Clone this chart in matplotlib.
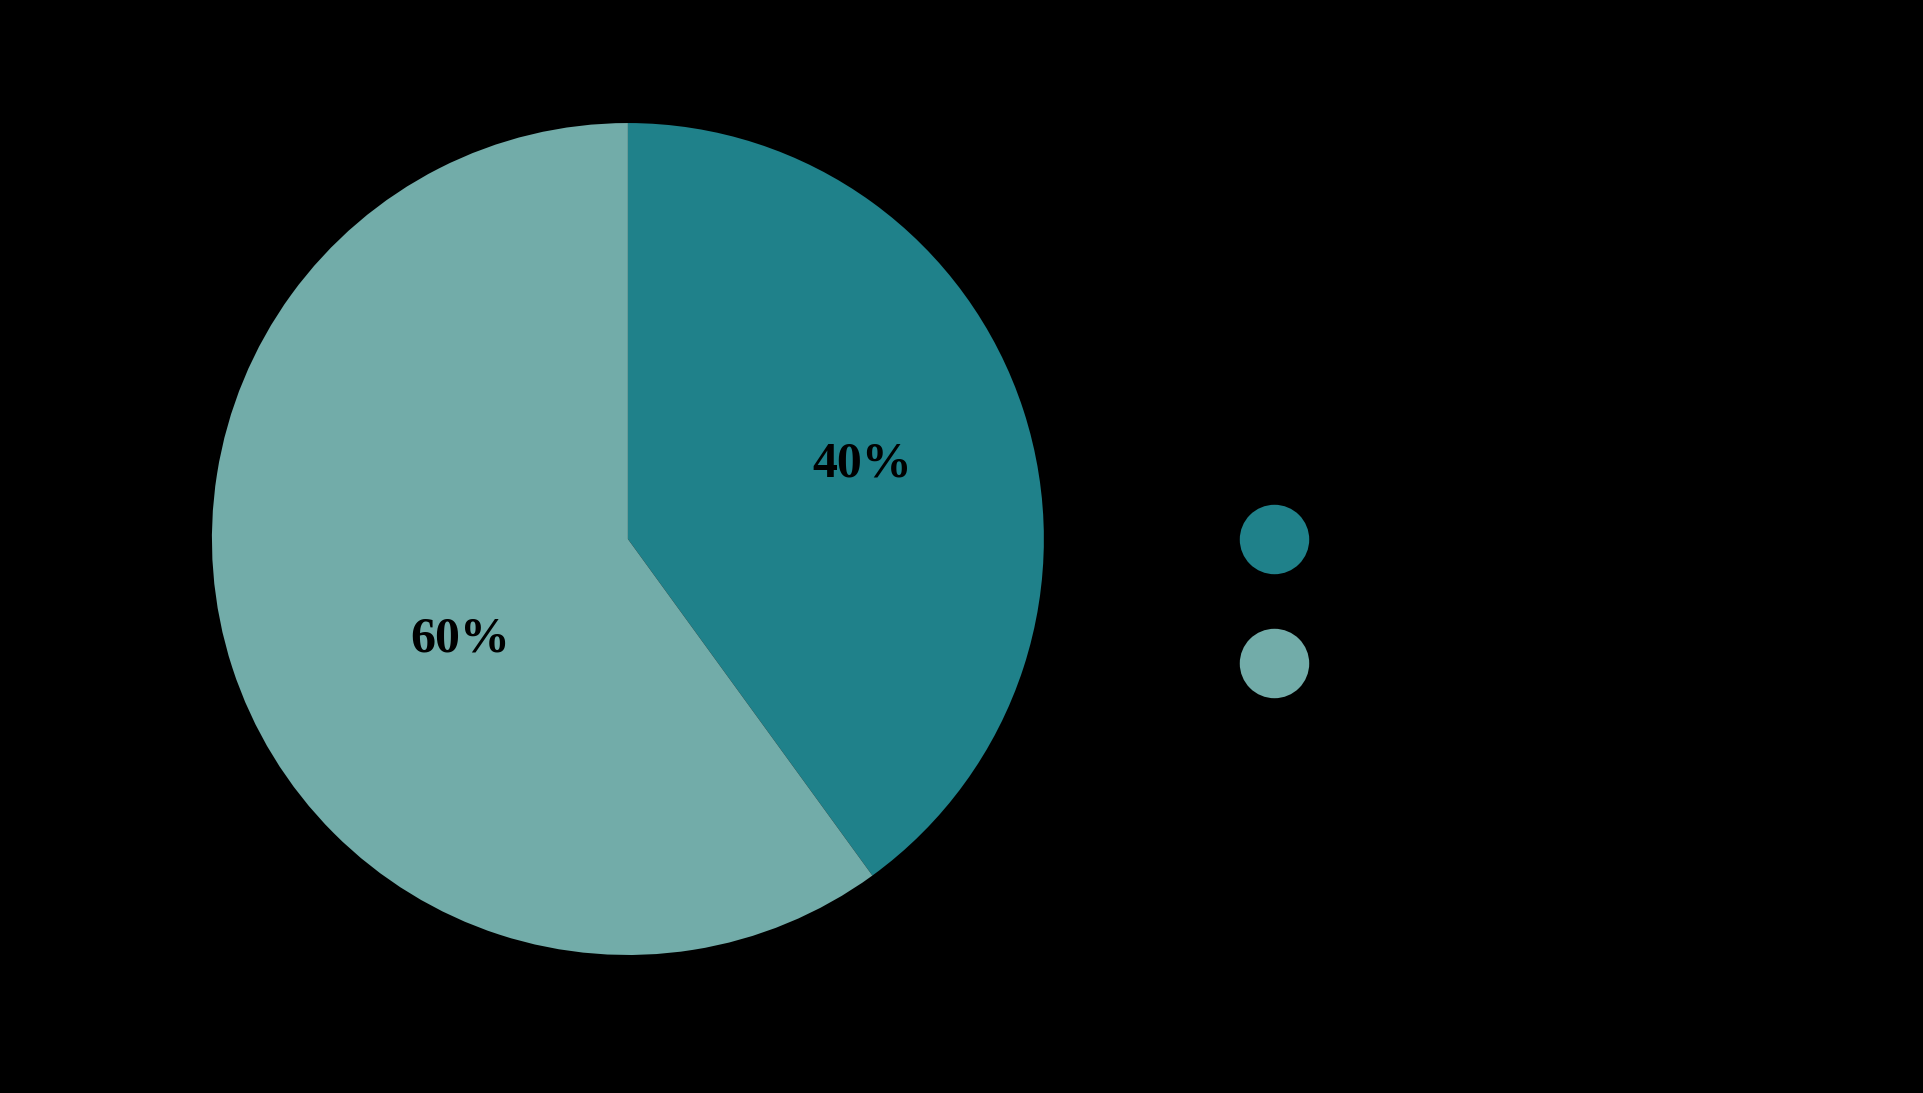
import matplotlib
matplotlib.use("Agg")
from matplotlib import pyplot as plt
from matplotlib.lines import Line2D
import numpy as np

# data
labels = ['Segment 1', 'Segment 2']
shares = [40, 60]
colors = ['#1f818a', '#72aca9']
# label placement (radius fraction, angle in degrees) per slice
label_pos = [(0.59, 17.6), (0.47, -149.0)]

plt.rcParams['font.family'] = ['Liberation Serif']

fig = plt.figure(figsize=(19.24, 10.93), dpi=100, facecolor='black')
ax = fig.add_axes([0.0561, 0.0311, 0.5405, 0.9515])
ax.set_facecolor('black')

wedges, texts, autotexts = ax.pie(
    shares, colors=colors, startangle=90, counterclock=False,
    autopct='%d%%', pctdistance=0.6,
    textprops={'fontsize': 36, 'weight': 'bold', 'color': 'black',
               'family': 'Liberation Serif'})

for t, (r, a) in zip(autotexts, label_pos):
    t.set_position((r * np.cos(np.radians(a)), r * np.sin(np.radians(a))))

# legend with round markers
handles = [Line2D([], [], marker='o', linestyle='none', markersize=50,
                  markerfacecolor=c, markeredgecolor='none') for c in colors]
leg = fig.legend(handles, labels, loc='center left',
                 bbox_to_anchor=(0.614, 0.4457), frameon=False,
                 fontsize=35, labelspacing=1.65, handletextpad=1.0,
                 labelcolor='black')

fig.savefig('out.png', dpi=100, facecolor='black')
